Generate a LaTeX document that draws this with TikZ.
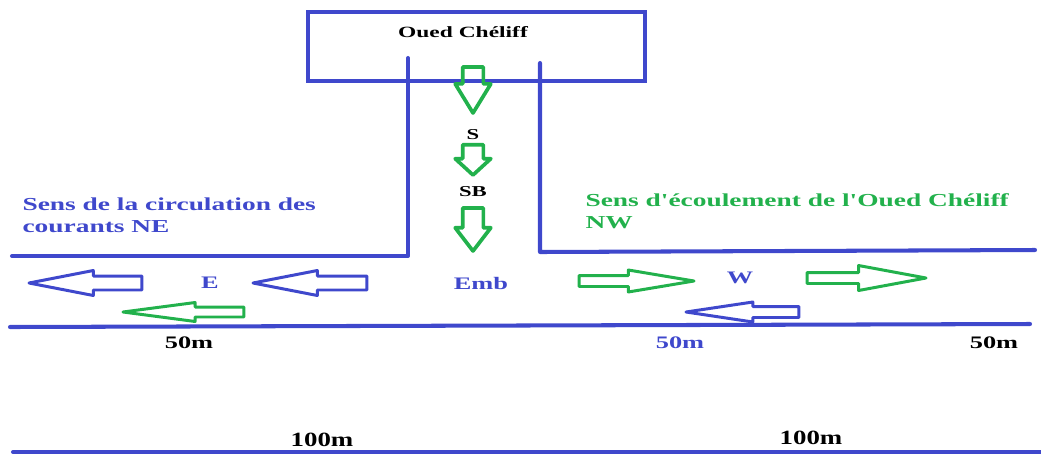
\documentclass[tikz,border=0pt]{standalone}
\usepackage{fontspec}
\setmainfont{Liberation Serif}
\usetikzlibrary{positioning,shapes.arrows}
\definecolor{paintblue}{RGB}{63,72,204}
\definecolor{paintgreen}{RGB}{34,177,76}

\begin{document}
\begin{tikzpicture}[
    x=0.02cm, y=-0.02cm,
    rive/.style={paintblue, line width=2.3pt, line cap=round, line join=round},
    courant/.style n args={4}{single arrow, draw, line width=1.7pt, line join=round, inner sep=#2, outer sep=0pt, minimum width=0pt, minimum height=#1, single arrow head extend=#3, single arrow tip angle=#4, anchor=tip},
    chute/.style={courant={#1}{0.17cm}{0.15cm}{70}, draw=paintgreen, line width=2.1pt, shape border rotate=270},
    gauche/.style={shape border rotate=180},
    lbl/.style={font=\fontsize{10.4}{12.5}\selectfont\bfseries, xscale=1.5, inner sep=0pt, align=left},
    mot/.style={font=\fontsize{10}{12}\selectfont\bfseries, xscale=1.5, inner sep=0pt},
    cote/.style={font=\fontsize{11.5}{13}\selectfont\bfseries, xscale=1.33, inner sep=0pt},
]
\useasboundingbox (0,0) rectangle (1041,454);

% l'oued et le canal
\node[draw=paintblue, line width=2.8pt, minimum width=6.74cm, minimum height=1.38cm] (oued) at (476.5,46.5) {};
\node[mot, font=\fontsize{8.9}{11}\selectfont\bfseries] (nomoued) at (463,32) {Oued Chéliff};
\draw[rive] (408,58) -- (408,256) -- (12,256);
\draw[rive] (540,63) -- (540,252) -- (1035,250);
\draw[rive] (10,327) -- (1030,324);
\draw[rive] (13,452) -- (1041,452);

% ecoulement dans le canal
\node[chute={0.92cm}, single arrow tip angle=63] (f1) at (473,113) {};
\node[mot, font=\fontsize{8.6}{10}\selectfont\bfseries] (s) at (473,135) {S};
\node[chute={0.56cm}, single arrow tip angle=95] (f2) at (473,175) {};
\node[mot, font=\fontsize{8.6}{10}\selectfont\bfseries] (sb) at (473,192) {SB};
\node[chute={0.86cm}, single arrow tip angle=75] (f3) at (473,251) {};

% courants
\node[courant={2.26cm}{0.11cm}{0.11cm}{22}, gauche, draw=paintblue] (c1) at (29,283) {};
\node[courant={2.28cm}{0.11cm}{0.11cm}{22}, gauche, draw=paintblue] (c2) at (253,283) {};
\node[courant={2.42cm}{0.07cm}{0.09cm}{15}, gauche, draw=paintgreen] (c3) at (123,312) {};
\node[courant={2.30cm}{0.08cm}{0.11cm}{19}, draw=paintgreen] (c4) at (694,281) {};
\node[courant={2.38cm}{0.08cm}{0.14cm}{21}, draw=paintgreen] (c5) at (926,278) {};
\node[courant={2.26cm}{0.08cm}{0.09cm}{17}, gauche, draw=paintblue] (c6) at (686,312) {};

% textes
\node[lbl, paintblue, anchor=west] (sensne) at (22,215) {Sens de la circulation des\\courants NE};
\node[lbl, paintgreen, anchor=west] (sensnw) at (585,211) {Sens d\textquotesingle écoulement de l\textquotesingle Oued Chéliff\\NW};
\node[mot, paintblue] (e) at (210,283) {E};
\node[mot, paintblue] (emb) at (481,283) {Emb};
\node[mot, paintblue] (w) at (740,278) {W};
\node[mot] (d1) at (189,343) {50m};
\node[mot, paintblue] (d2) at (680,343) {50m};
\node[mot] (d3) at (994,343) {50m};
\node[cote] (l1) at (322,440) {100m};
\node[cote] (l2) at (811,438) {100m};
\end{tikzpicture}
\end{document}
